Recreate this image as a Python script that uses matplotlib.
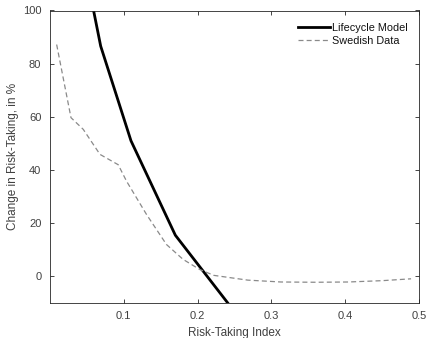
import matplotlib
matplotlib.use("Agg")
import matplotlib.pyplot as plt

plt.rcParams['font.family'] = ['Liberation Sans', 'DejaVu Sans']

# Lifecycle model: change in risk-taking vs risk-taking index
model_x = [0.05, 0.069, 0.11, 0.17, 0.241]
model_y = [113.0, 86.6, 51.0, 15.5, -10.0]

# Swedish data
swe_x = [0.0094, 0.0288, 0.0454, 0.068, 0.0927, 0.104, 0.131, 0.158, 0.1805,
         0.203, 0.222, 0.268, 0.313, 0.36, 0.404, 0.45, 0.489]
swe_y = [87.2, 59.7, 55.3, 45.9, 42.0, 35.8, 23.3, 12.0, 6.4,
         2.6, 0.4, -1.4, -2.1, -2.2, -2.1, -1.6, -0.9]

xticks = [0.1, 0.2, 0.3, 0.4, 0.5]
yticks = [0, 20, 40, 60, 80, 100]

axcol = '#262626'
txtcol = '#404040'

fig = plt.figure(figsize=(4.29, 3.38), dpi=100)
ax = fig.add_axes([49.7 / 429, 35 / 338, 369.5 / 429, 292.5 / 338])

ax.plot(model_x, model_y, color='black', lw=2.0, label='Lifecycle Model')
ax.plot(swe_x, swe_y, color='#8a8a8a', lw=0.9, ls=(0, (4, 2.5)), label='Swedish Data')

ax.set_xlim(0, 0.5)
ax.set_ylim(-10, 100)
ax.set_xticks(xticks)
ax.set_xticklabels(['0.1', '0.2', '0.3', '0.4', '0.5'])
ax.set_yticks(yticks)

ax.tick_params(direction='in', top=True, right=True, length=3, width=0.6,
               color=axcol, labelcolor=txtcol, labelsize=8, pad=6)
for s in ax.spines.values():
    s.set_color(axcol)
    s.set_linewidth(0.6)

ax.set_xlabel('Risk-Taking Index', fontsize=8.5, color=txtcol, labelpad=4)
ax.set_ylabel('Change in Risk-Taking, in %', fontsize=8.5, color=txtcol, labelpad=3)

# legend without frame, top right inside the axes
leg = ax.legend(loc='upper right', frameon=False, fontsize=7.8,
                handlelength=3.0, handletextpad=0.15, borderaxespad=0.0,
                borderpad=0.0, labelspacing=0.25,
                bbox_to_anchor=(407.5 / 429, 1 - 23 / 338),
                bbox_transform=fig.transFigure)
for t in leg.get_texts():
    t.set_color('#111111')

fig.savefig('out.png', dpi=100)
